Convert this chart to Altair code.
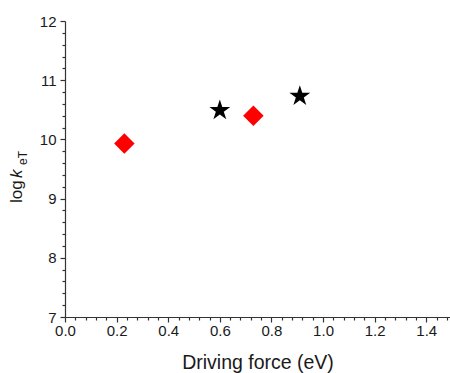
import altair as alt
import pandas as pd

# Data
diamond_force = [0.23, 0.73]
diamond_logk = [9.93, 10.40]
star_force = [0.60, 0.91]
star_logk = [10.49, 10.73]

x_tick_values = [round(i * 0.04, 2) for i in range(38)]      # 0.00 .. 1.48
y_tick_values = [round(7 + i * 0.2, 1) for i in range(26)]   # 7.0 .. 12.0

STAR = ("M0,-1L0.2245,-0.309L0.951,-0.309L0.363,0.118L0.588,0.809L0,0.382"
        "L-0.588,0.809L-0.363,0.118L-0.951,-0.309L-0.2245,-0.309Z")

df = pd.DataFrame({
    "force": diamond_force + star_force,
    "logk": diamond_logk + star_logk,
    "kind": ["diamond"] * len(diamond_force) + ["star"] * len(star_force),
})

FONT = "Liberation Sans"
AX = "#333333"
TXT = "#1a1a1a"

x_axis = alt.Axis(
    values=x_tick_values,
    labelExpr="abs(datum.value*5 - round(datum.value*5)) < 1e-6 ? format(datum.value, '.1f') : ''",
    tickSize={"condition": {"test": "abs(datum.value*5 - round(datum.value*5)) < 1e-6", "value": 5}, "value": 3},
    grid=False, domainColor=AX, tickColor=AX, domainWidth=1.2, tickWidth=1.2,
    labelFont=FONT, labelFontSize=15, labelColor=TXT, labelPadding=1,
    labelFlush=False, labelOverlap=False,
    title="Driving force (eV)", titleFont=FONT, titleFontSize=19.5,
    titleFontWeight="normal", titleColor=TXT, titlePadding=15,
)
y_axis = alt.Axis(
    values=y_tick_values,
    labelExpr="abs(datum.value - round(datum.value)) < 1e-6 ? format(datum.value, 'd') : ''",
    tickSize={"condition": {"test": "abs(datum.value - round(datum.value)) < 1e-6", "value": 5}, "value": 3},
    grid=False, domainColor=AX, tickColor=AX, domainWidth=1.2, tickWidth=1.2,
    labelFont=FONT, labelFontSize=15, labelColor=TXT, labelPadding=4,
    labelFlush=False, labelOverlap=False, title=None,
)

points = alt.Chart(df).mark_point(filled=True, opacity=1).encode(
    x=alt.X("force:Q", scale=alt.Scale(domain=[0, 1.492], nice=False, zero=False), axis=x_axis),
    y=alt.Y("logk:Q", scale=alt.Scale(domain=[7, 12], nice=False, zero=False), axis=y_axis),
    shape=alt.Shape("kind:N", scale=alt.Scale(domain=["diamond", "star"], range=["diamond", STAR]), legend=None),
    color=alt.Color("kind:N", scale=alt.Scale(domain=["diamond", "star"], range=["#ff0000", "#000000"]), legend=None),
    size=alt.Size("kind:N", scale=alt.Scale(domain=["diamond", "star"], range=[420, 480]), legend=None),
)

def title_part(text, x, y, size, italic=False):
    return alt.Chart(pd.DataFrame({"t": [text]})).mark_text(
        angle=270, align="left", baseline="alphabetic", font=FONT,
        fontSize=size, fontStyle="italic" if italic else "normal", color=TXT,
    ).encode(text="t:N", x=alt.value(x), y=alt.value(y))

ytitle = (title_part("log", -43, 182, 17)
          + title_part("k", -43, 157, 17, italic=True)
          + title_part("eT", -38, 144, 12))

chart = alt.layer(points, ytitle).properties(
    width=385, height=296,
    autosize=alt.AutoSizeParams(type="none"),
    padding={"left": 65, "top": 21, "right": 0, "bottom": 56},
).configure_view(stroke=None)

chart.save("out.html", embed_options={"renderer": "svg", "actions": False})
